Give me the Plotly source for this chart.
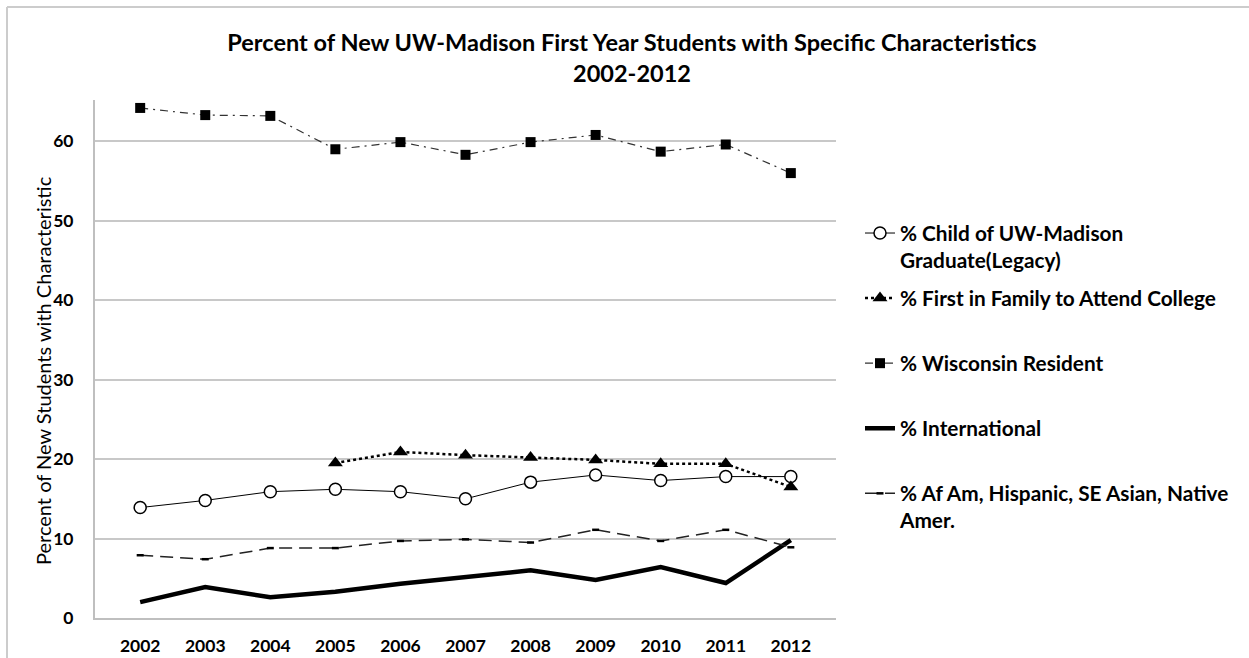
import plotly.graph_objects as go

years = ["2002", "2003", "2004", "2005", "2006", "2007", "2008", "2009", "2010", "2011", "2012"]
legacy = [13.9, 14.8, 15.9, 16.2, 15.9, 15.0, 17.1, 18.0, 17.3, 17.8, 17.8]
first_gen = [None, None, None, 19.5, 20.9, 20.5, 20.2, 19.9, 19.4, 19.4, 16.5]
wisconsin = [64.2, 63.3, 63.2, 59.0, 59.9, 58.3, 59.9, 60.8, 58.7, 59.6, 56.0]
international = [2.0, 3.9, 2.6, 3.3, 4.3, 5.1, 6.0, 4.8, 6.4, 4.4, 9.8]
minority = [7.9, 7.4, 8.8, 8.8, 9.7, 9.9, 9.5, 11.1, 9.7, 11.1, 8.9]

names = [
    "% Child of UW-Madison<br>Graduate(Legacy)",
    "% First in Family to Attend College<br> ",
    "% Wisconsin Resident<br> ",
    "% International<br> ",
    "% Af Am, Hispanic, SE Asian, Native<br>Amer.",
]

W, H = 1249, 658
L, R, T, B = 95, 836, 100, 618

fig = go.Figure()
fig.add_trace(go.Scatter(x=years, y=legacy, name=names[0], mode="lines+markers",
                         line=dict(color="black", width=1),
                         marker=dict(symbol="circle", size=12, color="white",
                                     line=dict(color="black", width=1.5))))
fig.add_trace(go.Scatter(x=years, y=first_gen, name=names[1], mode="lines+markers",
                         line=dict(color="black", width=2.5, dash="dot"),
                         marker=dict(symbol="triangle-up", size=13, color="black")))
fig.add_trace(go.Scatter(x=years, y=wisconsin, name=names[2], mode="lines+markers",
                         line=dict(color="#333333", width=1.2, dash="8px,5px,2px,5px"),
                         marker=dict(symbol="square", size=10, color="black")))
fig.add_trace(go.Scatter(x=years, y=international, name=names[3], mode="lines",
                         line=dict(color="black", width=4.5)))
fig.add_trace(go.Scatter(x=years, y=minority, name=names[4], mode="lines+markers",
                         line=dict(color="#222222", width=1.5, dash="13px,7px"),
                         marker=dict(symbol="line-ew", size=5,
                                     line=dict(color="black", width=2.5))))

FONT = "Lato, 'Open Sans', sans-serif"

fig.update_layout(
    width=W, height=H,
    margin=dict(l=L, r=W - R, t=T, b=H - B, autoexpand=False),
    paper_bgcolor="white", plot_bgcolor="white",
    font=dict(family=FONT, color="black", size=14),
    title=dict(
        text="Percent of New UW-Madison First Year Students with Specific Characteristics<br>2002-2012",
        x=632 / W, xref="container", xanchor="center",
        y=1 - 51 / H, yref="container", yanchor="middle",
        font=dict(family=FONT, size=23.5, weight="bold", color="black"),
    ),
    xaxis=dict(
        type="category", showgrid=False, showline=True, linecolor="#BFBFBF", linewidth=2,
        ticks="", tickfont=dict(family=FONT, size=17.5, weight="bold"), zeroline=False,
        ticklabelstandoff=11,
    ),
    yaxis=dict(
        range=[0, 65.2], tickvals=[0, 10, 20, 30, 40, 50, 60],
        showgrid=True, gridcolor="#C8C8C8", gridwidth=2,
        showline=True, linecolor="#BFBFBF", linewidth=2, zeroline=False,
        ticks="", tickfont=dict(family=FONT, size=17.5, weight="bold"),
        ticklabelstandoff=16,
    ),
    legend=dict(
        x=(860 - L) / (R - L), xanchor="left",
        y=(B - 213) / (B - T), yanchor="top",
        valign="top", tracegroupgap=8,
        font=dict(family=FONT, size=20.8, weight="bold"),
        bgcolor="rgba(0,0,0,0)",
    ),
    showlegend=True,
    annotations=[dict(
        text="Percent of New Students with Characteristic", textangle=-90,
        xref="paper", yref="paper",
        x=(43 - L) / (R - L), y=(B - 371) / (B - T),
        xanchor="center", yanchor="middle", showarrow=False,
        font=dict(family=FONT, size=20, color="black"),
    )],
    shapes=[dict(type="line", xref="paper", yref="paper",
                 x0=-(L - 7) / (R - L), x1=(W + 10 - L) / (R - L),
                 y0=(B - 7) / (B - T), y1=(B - 7) / (B - T),
                 line=dict(color="#CCCCCC", width=2)),
            dict(type="line", xref="paper", yref="paper",
                 x0=-(L - 7) / (R - L), x1=-(L - 7) / (R - L),
                 y0=(B - 7) / (B - T), y1=-(H + 10 - B) / (B - T),
                 line=dict(color="#CCCCCC", width=2))],
)
for i, tr in enumerate(fig.data):
    tr.legendgroup = f"g{i}"

fig.write_html("out.html")
